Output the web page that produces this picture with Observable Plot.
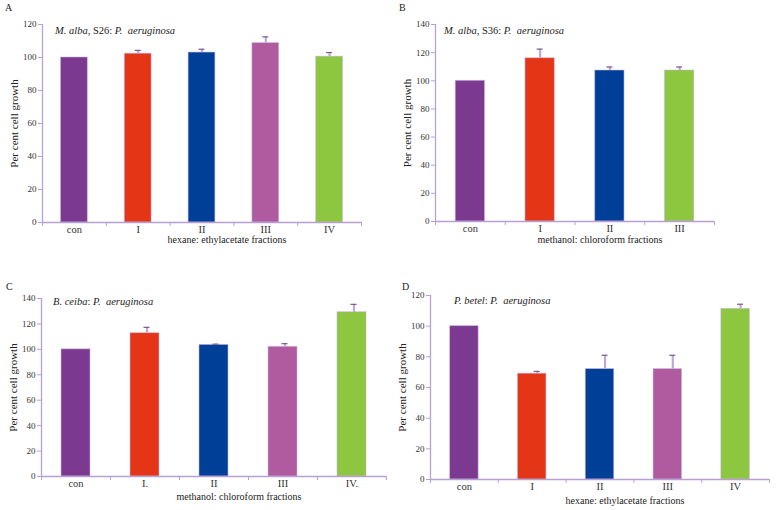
<!DOCTYPE html>
<html>
<head>
<meta charset="utf-8">
<script src="https://cdn.jsdelivr.net/npm/d3@7"></script>
<script src="https://cdn.jsdelivr.net/npm/@observablehq/plot@0.6"></script>
<style>
  html, body { margin: 0; padding: 0; background: #fff; }
  #wrap { position: relative; width: 778px; height: 510px; font-family: "Liberation Serif", serif; }
  .panel { position: absolute; }
  .panel, .panel text { font-family: "Liberation Serif", "Times New Roman", serif !important; }
  .letter { position: absolute; font-size: 10px; color: #222; font-family: "Liberation Serif", serif; }
</style>
</head>
<body>
<div id="wrap"></div>
<script>
// ---- Data ----
const catsA = ["con", "I", "II", "III", "IV"];
const meanA = [100, 102.3, 103, 108.7, 100.5];
const sdA   = [0, 2, 2, 3.8, 2.5];

const catsB = ["con", "I", "II", "III"];
const meanB = [100, 116, 107.3, 107.3];
const sdB   = [0, 6.5, 2.5, 2.5];

const catsC = ["con", "I.", "II", "III", "IV."];
const meanC = [100, 112.7, 103.5, 102, 129.2];
const sdC   = [0, 4.6, 0.6, 2.5, 6.2];

const catsD = ["con", "I", "II", "III", "IV"];
const meanD = [100, 69, 72, 72, 111.3];
const sdD   = [0, 1.5, 9, 9, 3];

const yTicksA = [0, 20, 40, 60, 80, 100, 120];
const yTicksB = [0, 20, 40, 60, 80, 100, 120, 140];
const yTicksC = [0, 20, 40, 60, 80, 100, 120, 140];
const yTicksD = [0, 20, 40, 60, 80, 100, 120];

const palette = ["#7b3a8f", "#e53517", "#003f98", "#b05aa0", "#8dc63f"];
const paletteB = ["#7b3a8f", "#e53517", "#003f98", "#8dc63f"];

const panels = [
  {letter: "A", cats: catsA, mean: meanA, sd: sdA, ticks: yTicksA, ymax: 120, colors: palette,
   note: ["M. alba", ", S26: ", "P.  aeruginosa"], xtitle: "hexane: ethylacetate fractions",
   left: 0, top: 0, w: 389, h: 255, mL: 42, mR: 28, mT: 24, mB: 33, errDx: 0, titleDy: 17,
   letterPos: [5, 2], noteDx: 13, noteDy: 8},
  {letter: "B", cats: catsB, mean: meanB, sd: sdB, ticks: yTicksB, ymax: 140, colors: paletteB,
   note: ["M. alba", ", S36: ", "P.  aeruginosa"], xtitle: "methanol: chloroform fractions",
   left: 389, top: 0, w: 389, h: 255, mL: 46, mR: 64, mT: 24, mB: 34, errDx: 0, titleDy: 18,
   letterPos: [399, 2], noteDx: 9, noteDy: 8},
  {letter: "C", cats: catsC, mean: meanC, sd: sdC, ticks: yTicksC, ymax: 140, colors: palette,
   note: ["B. ceiba", ": ", "P.  aeruginosa"], xtitle: "methanol: chloroform fractions",
   left: 0, top: 255, w: 389, h: 255, mL: 41, mR: 3, mT: 43, mB: 34, errDx: 2, titleDy: 20,
   letterPos: [6, 281], noteDx: 12, noteDy: 5},
  {letter: "D", cats: catsD, mean: meanD, sd: sdD, ticks: yTicksD, ymax: 120, colors: palette,
   note: ["P. betel", ": ", "P.  aeruginosa"], xtitle: "hexane: ethylacetate fractions",
   left: 389, top: 255, w: 389, h: 255, mL: 41, mR: 9, mT: 40, mB: 31, errDx: 5, titleDy: 21,
   letterPos: [402, 281], noteDx: 24, noteDy: 7}
];

const axisColor = "#b9a0d4";
const wrap = document.getElementById("wrap");

for (const p of panels) {
  const n = p.cats.length;
  const data = p.cats.map((c, i) => ({i, cat: c, mean: p.mean[i], sd: p.sd[i], top: p.mean[i] + p.sd[i], color: p.colors[i]}));
  const errs = data.filter(d => d.sd > 0);
  const frameW = p.w - p.mL - p.mR;
  const band = frameW / n;
  const inset = band * 0.29;
  const cap = 3 / band;

  const svg = Plot.plot({
    width: p.w, height: p.h,
    marginLeft: p.mL, marginRight: p.mR, marginTop: p.mT, marginBottom: p.mB,
    style: {fontFamily: "Liberation Serif", background: "transparent", overflow: "visible"},
    x: {domain: [0, n], axis: null},
    y: {domain: [0, p.ymax], axis: null},
    marks: [
      Plot.rectY(data, {x1: "i", x2: d => d.i + 1, y1: 0, y2: "mean", fill: "color",
        insetLeft: inset, insetRight: inset, stroke: "#c8b4e0", strokeWidth: 0.8, strokeOpacity: 0.7}),
      // error stems
      Plot.ruleX(errs, {x: d => d.i + 0.5, y1: "mean", y2: "top", stroke: "#c3a6d9", strokeWidth: 2.2, dx: p.errDx}),
      // error caps
      Plot.ruleY(errs, {y: "top", x1: d => d.i + 0.5 - cap, x2: d => d.i + 0.5 + cap, stroke: "#7d5a90", strokeWidth: 1.2, dx: p.errDx}),
      // y axis
      Plot.axisY({ticks: p.ticks, tickSize: 4, tickPadding: 2, stroke: axisColor, fontSize: 9, fill: "#333",
        label: null}),
      Plot.text(["Per cent cell growth"], {frameAnchor: "left", dx: -28, rotate: -90, fontSize: 11, fill: "#222", lineAnchor: "middle", textAnchor: "middle"}),
      Plot.ruleX([0], {stroke: axisColor, strokeWidth: 1.3}),
      // x axis
      Plot.ruleY([0], {stroke: axisColor, strokeWidth: 1.3}),
      Plot.axisX({ticks: d3.range(n + 1), tickSize: 4, tickFormat: () => "", stroke: axisColor, label: null}),
      Plot.axisX({ticks: d3.range(n).map(i => i + 0.5), tickSize: 0, tickPadding: 3,
        tickFormat: v => p.cats[Math.floor(v)], fontSize: 10.5, fill: "#333", label: null}),
      Plot.text([p.xtitle], {frameAnchor: "bottom", lineAnchor: "middle", dy: p.titleDy, dx: 25, fontSize: 10, fill: "#222"}),
    ]
  });
  svg.classList.add("panel");
  svg.style.left = p.left + "px";
  svg.style.top = p.top + "px";
  wrap.appendChild(svg);

  // annotation (italic species names) as real text in the svg
  const ns = "http://www.w3.org/2000/svg";
  const t = document.createElementNS(ns, "text");
  t.setAttribute("x", p.mL + p.noteDx);
  t.setAttribute("y", p.mT + p.noteDy);
  t.setAttribute("font-size", "10.5");
  t.setAttribute("fill", "#222");
  t.setAttribute("text-anchor", "start");
  t.setAttribute("dominant-baseline", "middle");
  p.note.forEach((s, k) => {
    const sp = document.createElementNS(ns, "tspan");
    sp.textContent = s;
    sp.setAttribute("font-style", k === 1 ? "normal" : "italic");
    sp.setAttribute("xml:space", "preserve");
    sp.style.whiteSpace = "pre";
    t.appendChild(sp);
  });
  svg.appendChild(t);

  const L = document.createElement("div");
  L.className = "letter";
  L.textContent = p.letter;
  L.style.left = p.letterPos[0] + "px";
  L.style.top = p.letterPos[1] + "px";
  wrap.appendChild(L);
}
</script>
</body>
</html>
